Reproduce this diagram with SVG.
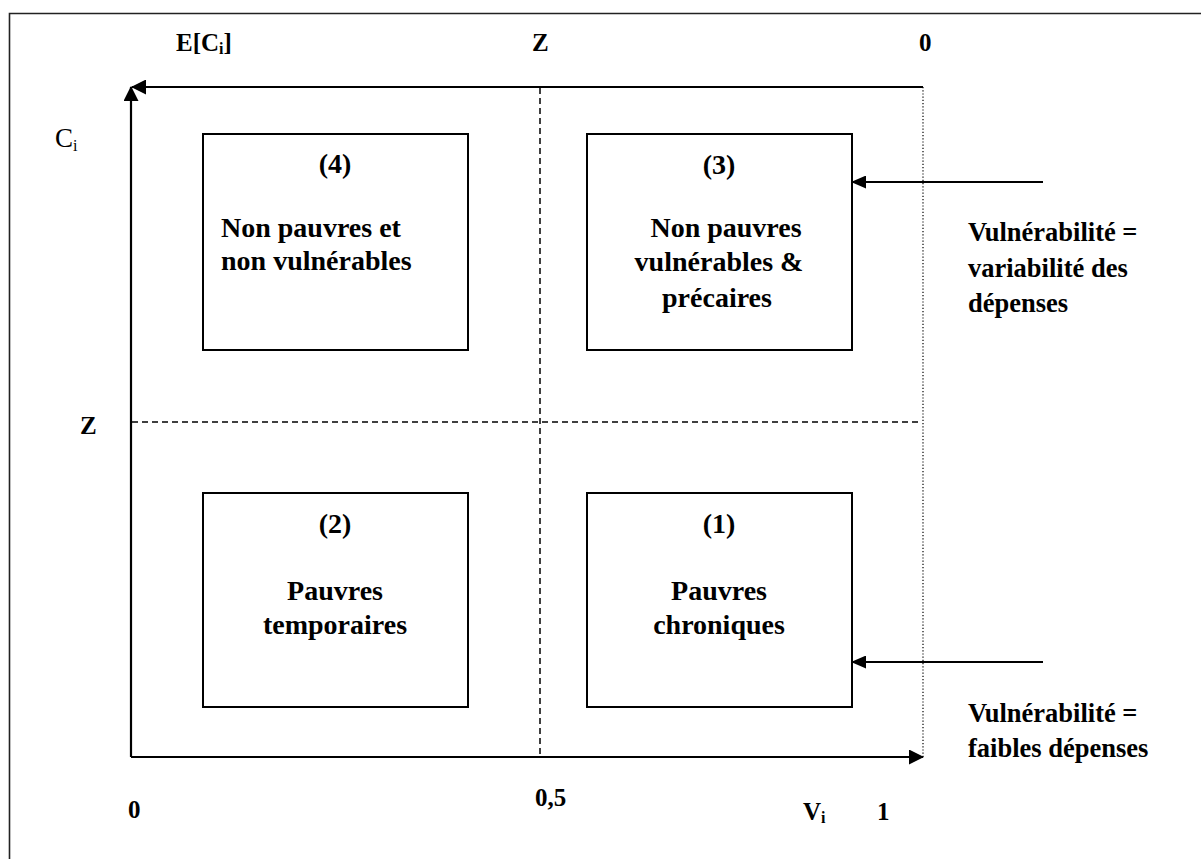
<svg xmlns="http://www.w3.org/2000/svg" width="1201" height="859" viewBox="0 0 1201 859">
<style>
text{font-family:"Liberation Serif","Times New Roman",serif;fill:#000}
.t{font-size:28px;font-weight:bold}
.r{font-size:26.5px;font-weight:bold}
.lab{font-size:25px;font-weight:bold}
.box{fill:#fff;stroke:#000;stroke-width:2}
.ar{stroke:#000;stroke-width:2.2;fill:none;marker-end:url(#ah)}
.ar2{stroke:#000;stroke-width:2.2;fill:none;marker-end:url(#ah2)}
</style>
<defs>
<marker id="ah" viewBox="0 0 15 15" refX="14" refY="7.5" markerWidth="15" markerHeight="15" markerUnits="userSpaceOnUse" orient="auto">
<path d="M0,0 L15,7.5 L0,15 Z" fill="#000"/>
</marker>
<marker id="ah2" viewBox="0 0 15 13" refX="14" refY="6.5" markerWidth="15" markerHeight="13" markerUnits="userSpaceOnUse" orient="auto">
<path d="M0,0 L15,6.5 L0,13 Z" fill="#000"/>
</marker>
</defs>
<rect width="1201" height="859" fill="#fff"/>
<g id="frame"><path d="M9.5,859 V13.5 H1201" fill="none" stroke="#222" stroke-width="1.6"/></g>
<g id="connectors">
<line class="ar" x1="131" y1="757" x2="131" y2="87"/>
<line class="ar" x1="923" y1="87" x2="132" y2="87"/>
<line class="ar" x1="131" y1="757" x2="923" y2="757"/>
<line x1="923" y1="87" x2="923" y2="757" stroke="#000" stroke-width="1.2" stroke-dasharray="1.2,2"/>
<line x1="540" y1="88" x2="540" y2="756" stroke="#000" stroke-width="1.5" stroke-dasharray="6,4"/>
<line x1="132" y1="422" x2="922" y2="422" stroke="#000" stroke-width="1.5" stroke-dasharray="6,4"/>
<line class="ar2" x1="1043" y1="182" x2="852" y2="182"/>
<line class="ar2" x1="1043" y1="662" x2="852" y2="662"/>
</g>
<g id="axis-labels">
<text class="lab" x="176" y="51">E[C<tspan font-size="16" dy="3">i</tspan><tspan dy="-3">]</tspan></text>
<text class="lab" x="532" y="51">Z</text>
<text class="lab" x="919" y="51" font-size="26">0</text>
<text x="55" y="147" font-size="27">C<tspan font-size="16" dy="4">i</tspan></text>
<text class="lab" x="80" y="434">Z</text>
<text class="lab" x="128" y="818" font-size="26">0</text>
<text class="lab" x="535" y="806" font-size="26">0,5</text>
<text class="lab" x="803" y="820">V<tspan font-size="16" dy="3">i</tspan></text>
<text class="lab" x="877" y="820" font-size="26">1</text>
</g>
<g id="node4">
<rect class="box" x="203" y="134" width="265" height="216"/>
<text class="t" x="335" y="173" text-anchor="middle">(4)</text>
<text class="t" x="221" y="237">Non pauvres et</text>
<text class="t" x="221" y="270">non vulnérables</text>
</g>
<g id="node3">
<rect class="box" x="587" y="134" width="265" height="216"/>
<text class="t" x="719" y="174" text-anchor="middle">(3)</text>
<text class="t" x="726" y="237" text-anchor="middle">Non pauvres</text>
<text class="t" x="719" y="271" text-anchor="middle">vulnérables &amp;</text>
<text class="t" x="717" y="307" text-anchor="middle">précaires</text>
</g>
<g id="node2">
<rect class="box" x="203" y="493" width="265" height="214"/>
<text class="t" x="335" y="533" text-anchor="middle">(2)</text>
<text class="t" x="335" y="600" text-anchor="middle">Pauvres</text>
<text class="t" x="335" y="634" text-anchor="middle">temporaires</text>
</g>
<g id="node1">
<rect class="box" x="587" y="493" width="265" height="214"/>
<text class="t" x="719" y="533" text-anchor="middle">(1)</text>
<text class="t" x="719" y="600" text-anchor="middle">Pauvres</text>
<text class="t" x="719" y="634" text-anchor="middle">chroniques</text>
</g>
<g id="note-top">
<text class="r" x="968" y="241">Vulnérabilité =</text>
<text class="r" x="968" y="277">variabilité des</text>
<text class="r" x="968" y="312">dépenses</text>
</g>
<g id="note-bottom">
<text class="r" x="968" y="722">Vulnérabilité =</text>
<text class="r" x="968" y="757">faibles dépenses</text>
</g>
</svg>
